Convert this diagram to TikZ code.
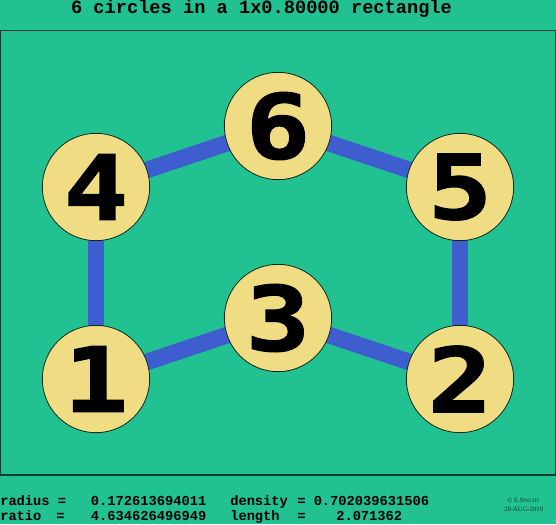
\documentclass[tikz,border=0pt]{standalone}
\usepackage{fontspec}
\setmonofont{Liberation Mono}
\newfontfamily\digitfont{DejaVu Sans Mono Bold}[FakeBold=1.6, FakeStretch=1.2]
\newfontfamily\credfont{Liberation Serif}
\usetikzlibrary{backgrounds}
\definecolor{bggreen}{RGB}{33,193,145}
\definecolor{linkblue}{RGB}{62,94,208}
\definecolor{discfill}{RGB}{240,220,130}
\definecolor{framecol}{RGB}{20,60,50}
\tikzset{
  disc/.style={circle, draw=black!80!bggreen, line width=0.6pt, fill=discfill, minimum size=80.5pt, inner sep=0pt,
    font=\digitfont\fontsize{67}{67}\selectfont},
  link/.style={draw=linkblue, line width=12.5pt},
  infotext/.style={font=\ttfamily\bfseries\fontsize{10.3}{12}\selectfont, inner sep=0pt, anchor=base west},
  credit/.style={font=\credfont\fontsize{5}{6}\selectfont, inner sep=0pt, anchor=base west, text=black!70!bggreen},
}
\begin{document}
\begin{tikzpicture}[x=0.75pt,y=-0.75pt]
\useasboundingbox (0,0) rectangle (556,524);
\node[disc] (c4) at (96,187) {4};
\node[disc] (c6) at (278,126) {6};
\node[disc] (c5) at (460,187) {5};
\node[disc] (c1) at (96,379) {1};
\node[disc] (c3) at (278,318) {3};
\node[disc] (c2) at (460,379) {2};
\begin{scope}[on background layer]
  \fill[bggreen] (0,0) rectangle (556,524);
  \draw[framecol, line width=0.9pt] (0.6,30.5) rectangle (555.5,475);
  \draw[link] (c4.center) -- (c1.center);
  \draw[link] (c4.center) -- (c6.center);
  \draw[link] (c6.center) -- (c5.center);
  \draw[link] (c5.center) -- (c2.center);
  \draw[link] (c1.center) -- (c3.center);
  \draw[link] (c3.center) -- (c2.center);
\end{scope}
\node[font=\ttfamily\bfseries\fontsize{14}{16}\selectfont, inner sep=0pt, anchor=base] (title) at (261.5,13.5) {6 circles in a 1x0.80000 rectangle};
\node[infotext] (r1a) at (0,505) {radius =};
\node[infotext] (r1b) at (90.7,505) {0.172613694011};
\node[infotext] (r1c) at (230,505) {density};
\node[infotext] (r1d) at (297,505) {= 0.702039631506};
\node[infotext] (r2a) at (0,520.5) {ratio};
\node[infotext] (r2b) at (56,520.5) {=};
\node[infotext] (r2c) at (90.7,520.5) {4.634626496949};
\node[infotext] (r2d) at (230,520.5) {length};
\node[infotext] (r2e) at (297,520.5) {=};
\node[infotext] (r2f) at (336,520.5) {2.071362};
\node[credit] (cr1) at (507,502) {\textcopyright\ E.S{\fontsize{3.8}{5}\selectfont PECHT}};
\node[credit] (cr2) at (504,511) {28-AUG-2010};
\end{tikzpicture}
\end{document}
